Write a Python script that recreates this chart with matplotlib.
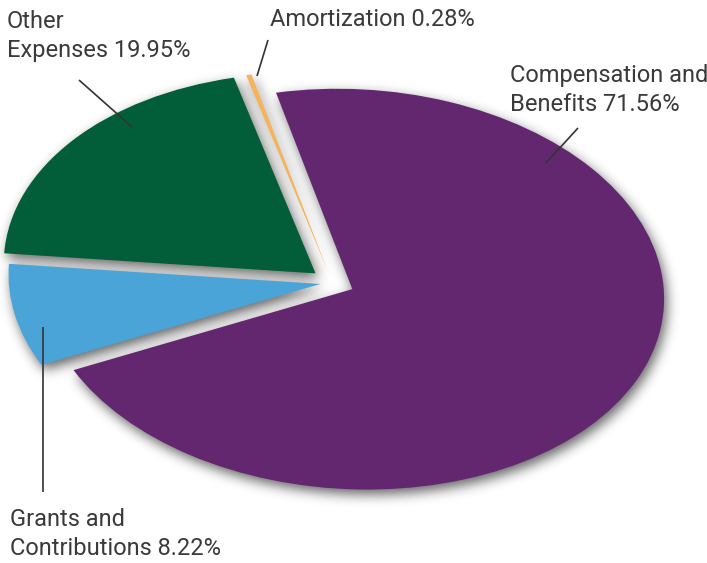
import numpy as np
import matplotlib
matplotlib.use('Agg')
import matplotlib.pyplot as plt
from matplotlib.transforms import Affine2D

# expense shares, counter-clockwise from the lower left
names = [['Compensation and', 'Benefits'], ['Amortization'],
         ['Other', 'Expenses'], ['Grants and', 'Contributions']]
shares = [71.56, 0.28, 19.95, 8.22]
colors = ['#63276f', '#f5b35c', '#025e38', '#4ba4d8']
explode = [0.07, 0.06, 0.07, 0.04]

W, H = 707, 563
fig = plt.figure(figsize=(W / 100, H / 100), dpi=100)
ax = fig.add_axes([0, 0, 1, 1])

# unit pie squashed into a slightly tilted ellipse (pixel units)
squash = Affine2D().scale(312, 200).rotate_deg(-3).translate(332.5, 280.3)


def draw_pie(cols, shift=(0, 0)):
    wedges, _ = ax.pie(shares, explode=explode, colors=cols,
                       startangle=-151.5, counterclock=True,
                       wedgeprops={'linewidth': 0, 'edgecolor': 'none'})
    tr = squash + Affine2D().translate(*shift) + ax.transData
    for w in wedges:
        w.set_transform(tr)
    ax.set_aspect('auto')
    ax.set_xlim(0, W)
    ax.set_ylim(0, H)
    ax.axis('off')
    return wedges


def blur(img, sigma):
    r = int(3 * sigma)
    k = np.exp(-0.5 * (np.arange(-r, r + 1) / sigma) ** 2)
    k /= k.sum()
    img = np.apply_along_axis(np.convolve, 0, img, k, mode='same')
    img = np.apply_along_axis(np.convolve, 1, img, k, mode='same')
    return img


# drop shadow: render the pie in black, blur it, use it as a backdrop
draw_pie(['k'] * len(shares), shift=(3, -5))
fig.canvas.draw()
buf = np.asarray(fig.canvas.buffer_rgba()).astype(float)
mask = 1 - buf[..., 0] / 255.0
shade = blur(mask, 6) * 0.6
rgba = np.zeros(mask.shape + (4,))
rgba[..., 3] = np.clip(shade, 0, 1)

ax.cla()
ax.imshow(rgba, extent=(0, W, 0, H), origin='upper', zorder=0,
          interpolation='bilinear')
draw_pie(colors)

# labels, one text per line, positions in pixels from the top
font = dict(family=['Roboto', 'DejaVu Sans'], fontweight='normal',
            fontsize=17, color='#3a3a3a')
spots = [(510, 82), (270, 25.5), (7, 27.5), (10, 526)]
for lines, share, (x, y) in zip(names, shares, spots):
    lines = lines[:-1] + [lines[-1] + ' %.2f%%' % share]
    for i, line in enumerate(lines):
        ax.text(x, H - (y + 29 * i), line, va='baseline', ha='left', **font)

# leader lines
leaders = [((578, 128), (546, 163)), ((268, 40), (257, 76)),
           ((79, 80), (132, 127)), ((43, 327), (43, 492))]
for (x0, y0), (x1, y1) in leaders:
    ax.plot([x0, x1], [H - y0, H - y1], color='#333333', lw=1.2,
            solid_capstyle='butt')

ax.set_xlim(0, W)
ax.set_ylim(0, H)
fig.savefig('out.png', dpi=100)
